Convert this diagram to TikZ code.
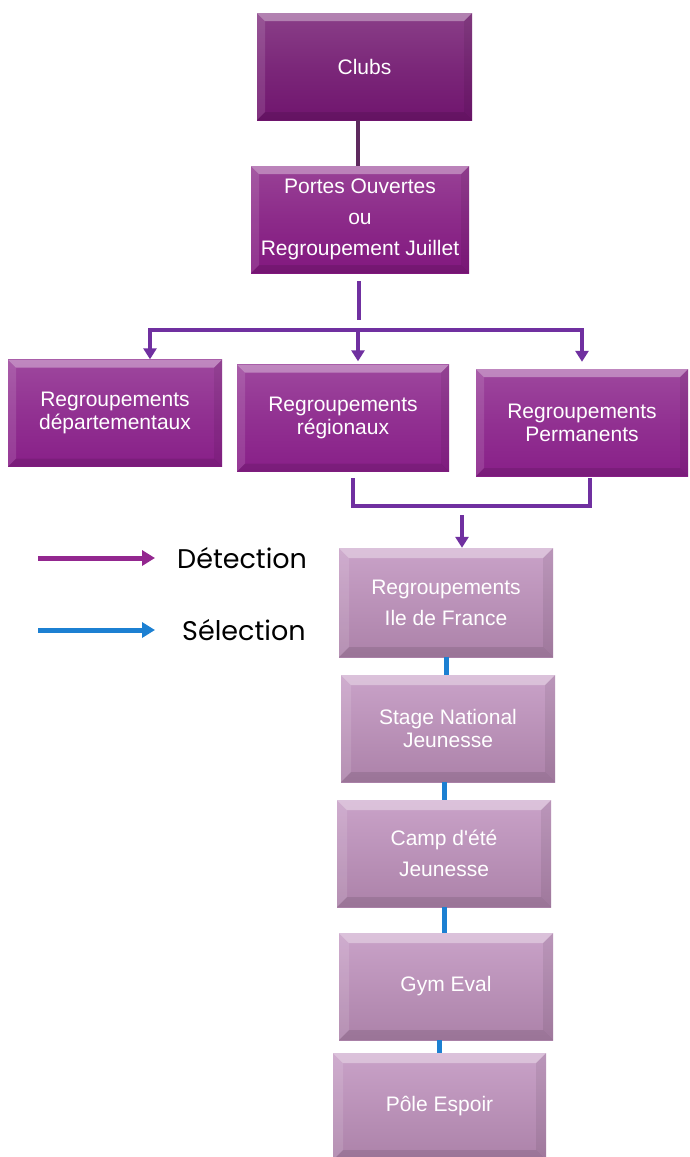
\documentclass[tikz,border=0pt]{standalone}
\usepackage{fontspec}
\setmainfont{Liberation Sans}
\newfontfamily\legfont{Poppins}
\usetikzlibrary{arrows.meta,calc}
\definecolor{detc}{HTML}{7030A0}
\definecolor{legdet}{HTML}{93278F}
\definecolor{selc}{HTML}{1C80D2}
\definecolor{darkline}{HTML}{5E2A5E}
\tikzset{
  bevel/.style={path picture={
    \fill[white,opacity=.35] let \p1=(path picture bounding box.north west), \p2=(path picture bounding box.south east) in
      (\x1,\y1) -- (\x2,\y1) -- (\x2-#1,\y1-#1) -- (\x1+#1,\y1-#1) -- cycle;
    \fill[white,opacity=.12] let \p1=(path picture bounding box.north west), \p2=(path picture bounding box.south east) in
      (\x1,\y1) -- (\x1+#1,\y1-#1) -- (\x1+#1,\y2+#1) -- (\x1,\y2) -- cycle;
    \fill[black,opacity=.07] let \p1=(path picture bounding box.north west), \p2=(path picture bounding box.south east) in
      (\x2,\y1) -- (\x2-#1,\y1-#1) -- (\x2-#1,\y2+#1) -- (\x2,\y2) -- cycle;
    \fill[black,opacity=.10] let \p1=(path picture bounding box.north west), \p2=(path picture bounding box.south east) in
      (\x1,\y2) -- (\x1+#1,\y2+#1) -- (\x2-#1,\y2+#1) -- (\x2,\y2) -- cycle;
  }},
  box/.style={minimum width=214pt, minimum height=107pt, inner sep=0pt, align=center,
    text=white, font=\fontsize{21}{23}\selectfont},
  darkbox/.style={box, top color=#1!82!white, bottom color=#1, middle color=#1!92!white, bevel=8pt},
  lightbox/.style={box, top color=lightA, bottom color=lightB, bevel=10pt},
  detline/.style={draw=detc, line width=4pt},
  detarrow/.style={detline, -{Triangle[width=13pt,length=11pt]}},
  selline/.style={draw=selc, line width=5pt},
  legarrow/.style={line width=5pt, -{Triangle[width=15pt,length=13pt]}},
  legtext/.style={font=\legfont\fontsize{27}{30}\selectfont, text=black, inner sep=0pt},
}
\definecolor{clubc}{HTML}{70156E}
\definecolor{poc}{HTML}{82187F}
\definecolor{regc}{HTML}{881F88}
\definecolor{lightA}{HTML}{C9A2C8}
\definecolor{lightB}{HTML}{AC82A9}
\begin{document}
\begin{tikzpicture}[x=1pt,y=-1pt]
\useasboundingbox[fill=white] (0,0) rectangle (689,1157);

% nodes
\node[darkbox=clubc, minimum width=215pt] (clubs) at (364.5,66.5) {Clubs};
\node[darkbox=poc, minimum width=218pt, font=\fontsize{21}{31}\selectfont] (po) at (360,219.5) {Portes Ouvertes\\ou\\Regroupement Juillet};
\node[darkbox=regc] (dep) at (115,413) {Regroupements\\départementaux};
\node[darkbox=regc, minimum width=212pt] (reg) at (343,418) {Regroupements\\régionaux};
\node[darkbox=regc, minimum width=212pt] (perm) at (582,422.5) {Regroupements\\Permanents};
\node[lightbox, minimum height=109pt, font=\fontsize{21}{31}\selectfont] (idf) at (446,602.5) {Regroupements\\Ile de France};
\node[lightbox] (snj) at (448,728.5) {Stage National\\Jeunesse};
\node[lightbox, font=\fontsize{21}{31}\selectfont] (camp) at (444,853.5) {Camp d\textquotesingle été\\Jeunesse};
\node[lightbox] (gym) at (446,986.5) {Gym Eval};
\node[lightbox, minimum width=213pt] (pole) at (439.5,1106.5) {Pôle Espoir};

% connectors top
\draw[draw=darkline, line width=4pt] ([xshift=-2pt]po.north |- clubs.south) -- ([xshift=-2pt]po.north);
\coordinate (p1) at (359,281);
\coordinate (p2) at (359,320);
\draw[detline] (p1) -- (p2);
\coordinate (bl) at (150,330);
\coordinate (bm) at (358,330);
\coordinate (br) at (582,330);
\draw[detline] ([xshift=-2pt]bl) -- ([xshift=2pt]br);
\draw[detarrow] (bl) -- (bl |- dep.north);
\draw[detarrow] (bm) -- ([yshift=3pt]bm |- reg.north);
\draw[detarrow] (br) -- ([yshift=7pt]br |- perm.north);

% bracket
\coordinate (r1) at (353,478);
\coordinate (r2) at (590,478);
\draw[detline] (r1) -- (353,506) -- (590,506) -- (r2);
\coordinate (r3) at (462,515);
\draw[detarrow] (r3) -- (r3 |- idf.north);

% selection lines
\draw[selline] (idf.south) -- (idf.south |- snj.north);
\draw[selline] (camp.north |- snj.south) -- (camp.north);
\draw[selline] (camp.south) -- (camp.south |- gym.north);
\draw[selline] (pole.north |- gym.south) -- (pole.north);

% legend
\coordinate (la1) at (38,558);
\coordinate (la2) at (155,558);
\coordinate (lb1) at (38,630);
\coordinate (lb2) at (155,630);
\draw[legarrow, draw=legdet, fill=legdet] (la1) -- (la2);
\draw[legarrow, draw=selc, fill=selc] (lb1) -- (lb2);
\node[legtext, anchor=west] (ld) at (177,558) {Détection};
\node[legtext, anchor=west] (ls) at (182,630) {Sélection};
\end{tikzpicture}
\end{document}
